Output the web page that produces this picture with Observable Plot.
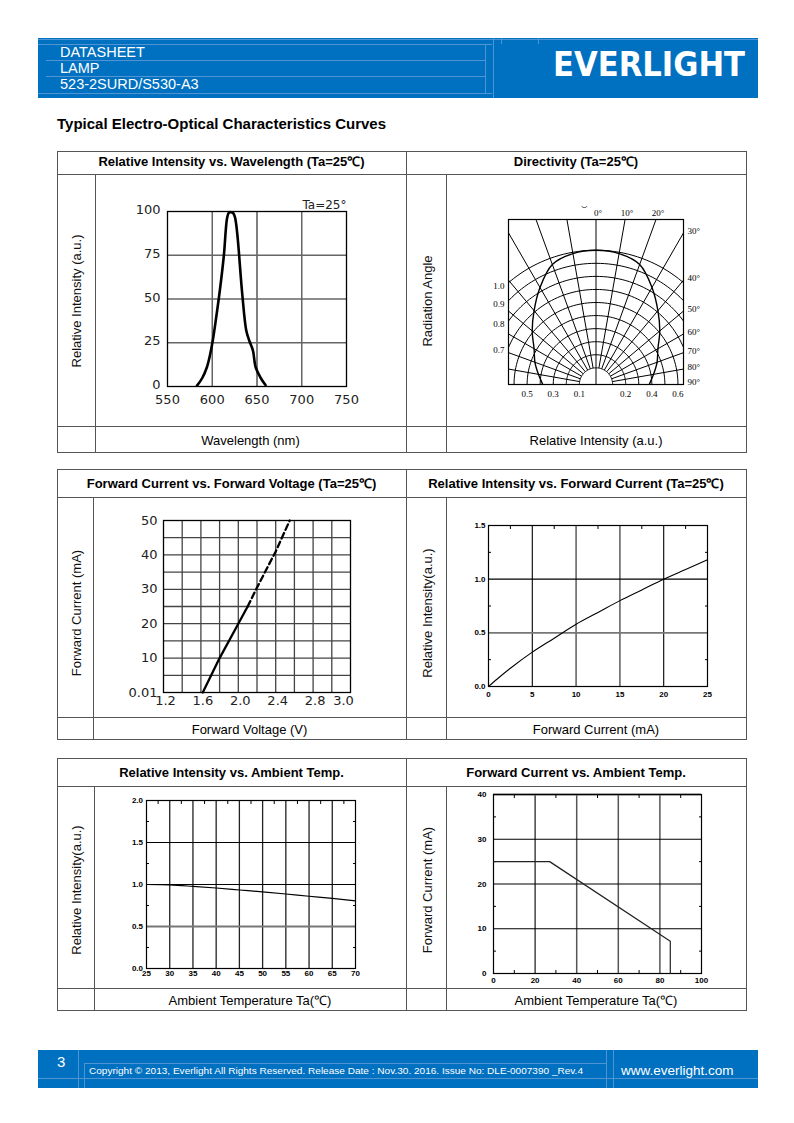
<!DOCTYPE html>
<html><head><meta charset="utf-8">
<script src="https://cdn.jsdelivr.net/npm/d3@7"></script>
<script src="https://cdn.jsdelivr.net/npm/@observablehq/plot@0.6"></script>
<style>
body{margin:0;background:#fff;}
#page{position:relative;width:794px;height:1123px;overflow:hidden;font-family:"Liberation Sans",Arial,sans-serif;color:#000;background:#fff;}
.ln{position:absolute;background:#555;}
.ctr{position:absolute;white-space:nowrap;transform:translate(-50%,-50%);font-size:13px;}
.hdr{font-weight:bold;}
.rot{position:absolute;white-space:nowrap;transform:translate(-50%,-50%) rotate(-90deg);font-size:13px;color:#111;}
</style></head>
<body><div id="page">
<svg width="794" height="1123" style="position:absolute;left:0;top:0" font-family="Liberation Sans, Arial, sans-serif">
  <rect x="38" y="38" width="720" height="60" fill="#0070c0"/>
  <g stroke="#4f95d3" stroke-width="1" fill="none">
    <path d="M38 39.5H758M38 44.5H492M46 60.5H486M46 76.5H486M38 93.5H492M485.5 44V93M493.5 38V98M501.5 38V44M538.5 38V44"/>
  </g>
  <text x="60" y="57" font-size="14.5" fill="#fff">DATASHEET</text>
  <text x="60" y="73" font-size="14.5" fill="#fff">LAMP</text>
  <text x="60" y="89" font-size="14.5" fill="#fff">523-2SURD/S530-A3</text>
  <text x="553" y="76" font-size="33" font-weight="bold" font-family="DejaVu Sans" fill="#fff" textLength="192" lengthAdjust="spacingAndGlyphs">EVERLIGHT</text>
  <rect x="38" y="1050" width="720" height="38" fill="#0070c0"/>
  <g stroke="#4f95d3" stroke-width="1" fill="none">
    <path d="M78.5 1050V1088M84.5 1063V1088M84 1063.5H607M606.5 1050V1088M613.5 1050V1088M38 1078.5H758"/>
  </g>
  <text x="57" y="1067" font-size="15" fill="#fff">3</text>
  <text x="89" y="1074" font-size="9.5" fill="#fff" textLength="494" lengthAdjust="spacingAndGlyphs">Copyright © 2013, Everlight All Rights Reserved. Release Date : Nov.30. 2016. Issue No: DLE-0007390 _Rev.4</text>
  <text x="621" y="1074.5" font-size="13.5" fill="#fff">www.everlight.com</text>
</svg>
<div style="position:absolute;left:57px;top:115px;font-size:15px;font-weight:bold;white-space:nowrap">Typical Electro-Optical Characteristics Curves</div>
</div>
<script>
// ---------- DATA ----------
// Relative intensity vs wavelength
const wlNm  = [583, 589, 594, 597.5, 600.5, 604, 609, 613, 616.5, 618.5, 621, 623.5, 625.5, 628, 633.5, 638, 641.5, 645.5, 648.5, 654, 659.5];
const wlRel = [0.5, 5, 11, 18, 26, 38, 57, 75, 96, 99.3, 99.6, 99, 96.5, 87, 53, 32, 26, 20.5, 11, 5, 0.8];
const wlXTicks = [550, 600, 650, 700, 750];
const wlYTicks = [0, 25, 50, 75, 100];

// Directivity (polar)
const dirAngle = [-90, -80, -70, -60, -50, -40, -30, -20, -10, 0, 10, 20, 30, 40, 50, 60, 70, 80, 90];
const dirRel   = [0.38, 0.42, 0.47, 0.52, 0.61, 0.71, 0.83, 0.95, 0.99, 1.0, 0.99, 0.95, 0.83, 0.71, 0.61, 0.52, 0.47, 0.42, 0.38];
const dirLevels = [0.1, 0.2, 0.3, 0.4, 0.5, 0.6, 0.7, 0.8, 0.9, 1.0];
const dirSpokes = [-80, -70, -60, -50, -40, -30, -20, -10, 10, 20, 30, 40, 50, 60, 70, 80];
const dirTopLabels = [0, 10, 20];
const dirRightLabels = [30, 40, 50, 60, 70, 80, 90];
const dirLeftLabels = [1.0, 0.9, 0.8, 0.7];
const dirBottomLabels = [-0.5, -0.3, -0.1, 0.2, 0.4, 0.6];

// Forward current vs forward voltage
const fvSolidV = [1.62, 1.8, 2.0, 2.1];
const fvSolidI = [0, 10, 20, 25];
const fvDashV  = [2.1, 2.2, 2.4, 2.55];
const fvDashI  = [25, 30.5, 41, 50];
const fvXTicks = [1.2, 1.6, 2.0, 2.4, 2.8];
const fvXLast = 3.2, fvXLastLabel = "3.0";
const fvYTicks = [0, 10, 20, 30, 40, 50];
const fvGridX = [1.4, 1.6, 1.8, 2.0, 2.2, 2.4, 2.6, 2.8, 3.0];
const fvGridY = [5, 10, 15, 20, 25, 30, 35, 40, 45];

// Relative intensity vs forward current
const ifCur = [0, 1, 2.5, 5, 7.5, 10, 12.5, 15, 17.5, 20, 22.5, 25];
const ifRel = [0, 0.07, 0.17, 0.32, 0.45, 0.58, 0.69, 0.80, 0.90, 1.0, 1.09, 1.18];
const ifXTicks = [0, 5, 10, 15, 20, 25];
const ifXMinor = [2.5, 7.5, 12.5, 17.5, 22.5];
const ifYTicks = [0, 0.5, 1.0, 1.5];
const ifYMinor = [0.25, 0.75, 1.25];

// Relative intensity vs ambient temperature
const taTemp = [25, 30, 35, 40, 45, 50, 55, 60, 65, 70];
const taRel  = [1.0, 0.995, 0.978, 0.958, 0.935, 0.912, 0.887, 0.86, 0.835, 0.805];
const taXTicks = [25, 30, 35, 40, 45, 50, 55, 60, 65, 70];
const taXMinor = [27.5, 32.5, 37.5, 42.5, 47.5, 52.5, 57.5, 62.5, 67.5];
const taYTicks = [0, 0.5, 1.0, 1.5, 2.0];
const taYMinor = [0.25, 0.75, 1.25, 1.75];

// Forward current vs ambient temperature (derating)
const derTemp = [0, 27, 85, 85];
const derCur  = [25, 25, 7.2, 0];
const derXTicks = [0, 20, 40, 60, 80, 100];
const derXMinor = [10, 30, 50, 70, 90];
const derYTicks = [0, 10, 20, 30, 40];
const derYMinor = [5, 15, 25, 35];

// ---------- LAYOUT ----------
const page = document.getElementById("page");
function box(x, y, w, h) {
  const d = document.createElement("div");
  d.className = "ln";
  Object.assign(d.style, {left: x + "px", top: y + "px", width: w + "px", height: h + "px"});
  page.appendChild(d);
}
function table(t) {
  const L = 57, R = 746, M = 406, RC = 446;
  for (const y of [t.top, t.hb, t.ft, t.bottom]) box(L, y, R - L + 1, 1);
  for (const x of [L, R, M]) box(x, t.top, 1, t.bottom - t.top + 1);
  for (const x of [t.lc, RC]) box(x, t.hb, 1, t.bottom - t.hb + 1);
}
function label(text, cx, cy, cls) {
  const d = document.createElement("div");
  d.className = cls;
  d.textContent = text;
  Object.assign(d.style, {left: cx + "px", top: cy + "px"});
  page.appendChild(d);
}
const tables = [
  {top: 151, hb: 174, ft: 426, bottom: 452, lc: 95,
   h: ["Relative Intensity vs. Wavelength (Ta=25℃)", "Directivity (Ta=25℃)"],
   f: ["Wavelength (nm)", "Relative Intensity (a.u.)"],
   y: ["Relative Intensity (a.u.)", "Radiation Angle"], yc: 301, hy: 160.5},
  {top: 469, hb: 497, ft: 717, bottom: 739, lc: 93,
   h: ["Forward Current vs. Forward Voltage (Ta=25℃)", "Relative Intensity vs. Forward Current (Ta=25℃)"],
   f: ["Forward Voltage (V)", "Forward Current (mA)"],
   y: ["Forward Current (mA)", "Relative Intensity(a.u.)"], yc: 613, hy: 483},
  {top: 758, hb: 786, ft: 988, bottom: 1010, lc: 94,
   h: ["Relative Intensity vs. Ambient Temp.", "Forward Current vs. Ambient Temp."],
   f: ["Ambient Temperature Ta(℃)", "Ambient Temperature Ta(℃)"],
   y: ["Relative Intensity(a.u.)", "Forward Current (mA)"], yc: 890, hy: 772}
];
for (const t of tables) {
  table(t);
  label(t.h[0], 231.5, t.hy, "ctr hdr");
  label(t.h[1], 576, t.hy, "ctr hdr");
  label(t.f[0], (t.lc + 406) / 2, (t.ft + t.bottom) / 2 + 0.5, "ctr");
  label(t.f[1], 596, (t.ft + t.bottom) / 2 + 0.5, "ctr");
  label(t.y[0], 76, t.yc, "rot");
  label(t.y[1], 426.5, t.yc, "rot");
}

// ---------- CHARTS ----------
function place(opts, frame, m) {
  const [x0, y0, x1, y1] = frame;
  const [mt, mr, mb, ml] = m;
  const svg = Plot.plot({
    ...opts,
    width: x1 - x0 + ml + mr, height: y1 - y0 + mt + mb,
    marginTop: mt, marginRight: mr, marginBottom: mb, marginLeft: ml
  });
  Object.assign(svg.style, {position: "absolute", left: (x0 - ml) + "px", top: (y0 - mt) + "px", overflow: "visible"});
  page.appendChild(svg);
}
const pixStyle = {fontFamily: "DejaVu Sans", fontSize: "13px", background: "transparent", color: "#222"};
const smallStyle = {fontFamily: "Liberation Sans, Arial", fontSize: "8px", fontWeight: "bold", background: "transparent", color: "#000"};
const blank = () => "";

// 1. Relative intensity vs wavelength
place({
  x: {domain: [550, 750]}, y: {domain: [0, 100]}, style: pixStyle,
  marks: [
    Plot.ruleX([600, 700], {stroke: "#666", strokeWidth: 1.5}),
    Plot.ruleX([650], {stroke: "#000", strokeWidth: 1}),
    Plot.ruleY([25, 50, 75], {stroke: "#666", strokeWidth: 1.5}),
    Plot.frame({stroke: "#000", strokeWidth: 1.3}),
    Plot.axisX(wlXTicks, {tickSize: 0, tickPadding: 8}),
    Plot.axisY(wlYTicks, {tickSize: 0, tickPadding: 7, dy: -1.5}),
    Plot.line(wlNm, {x: wlNm, y: wlRel, curve: "catmull-rom", strokeWidth: 2.6, stroke: "#000"}),
    Plot.text(["Ta=25°"], {text: d => d, frameAnchor: "top-right", textAnchor: "end", lineAnchor: "bottom", dy: -3, fontSize: 12})
  ]
}, [167, 211, 346, 386], [16, 12, 24, 40]);

// 2. Directivity
const rad = d3.scaleLinear([0.1, 1.0], [0.124, 1.0]);
const DEG = Math.PI / 180;
const XH = 0.652, YT = 1.229;
const arcPts = dirLevels.flatMap(L => d3.range(-90, 90.5, 2).map(a => ({L, x: rad(L) * Math.sin(a * DEG), y: rad(L) * Math.cos(a * DEG)})));
const serif = {fontFamily: "Liberation Serif", fontSize: 9};
place({
  x: {domain: [-XH, XH], axis: null}, y: {domain: [0, YT], axis: null},
  style: {background: "transparent", color: "#000"},
  marks: [
    Plot.line(arcPts, {x: "x", y: "y", z: "L", stroke: "#000", strokeWidth: 1, clip: true}),
    Plot.link(dirSpokes, {
      x1: a => rad(0.1) * Math.sin(a * DEG), y1: a => rad(0.1) * Math.cos(a * DEG),
      x2: a => 3 * Math.sin(a * DEG), y2: a => 3 * Math.cos(a * DEG),
      stroke: "#000", strokeWidth: 1, clip: true}),
    Plot.ruleX([0], {stroke: "#000", strokeWidth: 1}),
    Plot.line(dirAngle, {
      x: dirAngle.map((a, i) => rad(dirRel[i]) * Math.sin(a * DEG)),
      y: dirAngle.map((a, i) => rad(dirRel[i]) * Math.cos(a * DEG)),
      curve: "catmull-rom", stroke: "#000", strokeWidth: 1.4, clip: true}),
    Plot.frame({stroke: "#000", strokeWidth: 1.2}),
    Plot.text(dirTopLabels, {x: a => YT * Math.tan(a * DEG), y: YT, text: a => a + "°", dy: -6, dx: 2, ...serif}),
    Plot.text(dirRightLabels, {x: XH, y: a => XH / Math.tan(a * DEG), text: a => a + "°", textAnchor: "start", dx: 4, dy: -2, ...serif}),
    Plot.text(dirLeftLabels, {x: -XH, y: v => Math.sqrt(rad(v) ** 2 - XH ** 2), text: v => v.toFixed(1), textAnchor: "end", dx: -4, dy: 3, ...serif}),
    Plot.text(dirBottomLabels, {x: v => Math.sign(v) * rad(Math.abs(v)), y: 0, text: v => Math.abs(v).toFixed(1), dy: 10, ...serif}),
    Plot.text(["‿"], {x: -0.087, y: 1.36, text: d => d, fontSize: 10})
  ]
}, [508, 219, 683, 384], [30, 34, 22, 30]);

// 3. Forward current vs forward voltage
place({
  x: {domain: [1.2, 3.2]}, y: {domain: [0, 50]}, style: pixStyle,
  marks: [
    Plot.ruleX(fvGridX, {stroke: "#444", strokeWidth: 1.3}),
    Plot.ruleY(fvGridY, {stroke: "#444", strokeWidth: 1.3}),
    Plot.frame({stroke: "#000", strokeWidth: 1.3}),
    Plot.axisX(fvXTicks, {tickSize: 0, tickPadding: 3, tickFormat: d => d.toFixed(1), dx: 2}),
    Plot.axisX([fvXLast], {tickSize: 0, tickPadding: 3, tickFormat: () => fvXLastLabel, dx: -7}),
    Plot.axisY(fvYTicks, {tickSize: 0, tickPadding: 6, tickFormat: d => d === 0 ? "0.01" : d}),
    Plot.line(fvSolidV, {x: fvSolidV, y: fvSolidI, stroke: "#000", strokeWidth: 2.3}),
    Plot.line(fvDashV, {x: fvDashV, y: fvDashI, stroke: "#000", strokeWidth: 2.3, strokeDasharray: "6,3.5"})
  ]
}, [163, 520, 350, 692], [12, 12, 18, 34]);

// 4. Relative intensity vs forward current
place({
  x: {domain: [0, 25]}, y: {domain: [0, 1.5]}, style: smallStyle,
  marks: [
    Plot.ruleX([5, 20], {stroke: "#000", strokeWidth: 1.1}),
    Plot.ruleX([10, 15], {stroke: "#777", strokeWidth: 1.8}),
    Plot.ruleY([1.0], {stroke: "#000", strokeWidth: 1.1}),
    Plot.ruleY([0.5], {stroke: "#777", strokeWidth: 1.8}),
    Plot.frame({stroke: "#000", strokeWidth: 1.2}),
    Plot.axisX(ifXTicks, {tickSize: 0, tickPadding: 5}),
    Plot.axisY(ifYTicks, {tickSize: 0, tickPadding: 3, tickFormat: d => d.toFixed(1)}),
    Plot.axisX(ifXMinor, {anchor: "top", tickSize: -3, tickFormat: blank}),
    Plot.axisY(ifYMinor, {anchor: "left", tickSize: -3, tickFormat: blank}),
    Plot.axisY(ifYMinor, {anchor: "right", tickSize: -3, tickFormat: blank}),
    Plot.line(ifCur, {x: ifCur, y: ifRel, curve: "monotone-x", stroke: "#000", strokeWidth: 1.1})
  ]
}, [488, 525, 707, 686], [10, 10, 16, 22]);

// 5. Relative intensity vs ambient temperature
place({
  x: {domain: [25, 70]}, y: {domain: [0, 2.0]}, style: smallStyle,
  marks: [
    Plot.ruleX(taXTicks.slice(1, -1), {stroke: "#222", strokeWidth: 1.3}),
    Plot.ruleY([1.0, 1.5], {stroke: "#000", strokeWidth: 1.1}),
    Plot.ruleY([0.5], {stroke: "#777", strokeWidth: 1.8}),
    Plot.frame({stroke: "#000", strokeWidth: 1.2}),
    Plot.axisX(taXTicks, {tickSize: 0, tickPadding: 2}),
    Plot.axisY(taYTicks, {tickSize: 0, tickPadding: 3.5, tickFormat: d => d.toFixed(1)}),
    Plot.axisX(taXMinor, {anchor: "top", tickSize: -3, tickFormat: blank}),
    Plot.axisY(taYMinor, {anchor: "left", tickSize: -3, tickFormat: blank}),
    Plot.axisY(taYMinor, {anchor: "right", tickSize: -3, tickFormat: blank}),
    Plot.line(taTemp, {x: taTemp, y: taRel, curve: "monotone-x", stroke: "#000", strokeWidth: 1.1})
  ]
}, [146, 800, 355, 968], [8, 10, 14, 22]);

// 6. Forward current vs ambient temperature
place({
  x: {domain: [0, 100]}, y: {domain: [0, 40]}, style: smallStyle,
  marks: [
    Plot.ruleX([20], {stroke: "#000", strokeWidth: 1.1}),
    Plot.ruleX([40, 60, 80], {stroke: "#555", strokeWidth: 1.5}),
    Plot.ruleY([10, 20, 30], {stroke: "#000", strokeWidth: 1.1}),
    Plot.ruleY([40], {stroke: "#777", strokeWidth: 2}),
    Plot.frame({stroke: "#000", strokeWidth: 1.2}),
    Plot.axisX(derXTicks, {tickSize: 0, tickPadding: 4}),
    Plot.axisY(derYTicks, {tickSize: 0, tickPadding: 7}),
    Plot.axisX(derXMinor, {anchor: "top", tickSize: -3, tickFormat: blank}),
    Plot.axisX(derXMinor, {anchor: "bottom", tickSize: -3, tickFormat: blank}),
    Plot.axisY(derYMinor, {anchor: "left", tickSize: -3, tickFormat: blank}),
    Plot.axisY(derYMinor, {anchor: "right", tickSize: -3, tickFormat: blank}),
    Plot.line(derTemp, {x: derTemp, y: derCur, stroke: "#222", strokeWidth: 1.2})
  ]
}, [493, 794, 701, 973], [8, 10, 18, 24]);
</script>
</body></html>
